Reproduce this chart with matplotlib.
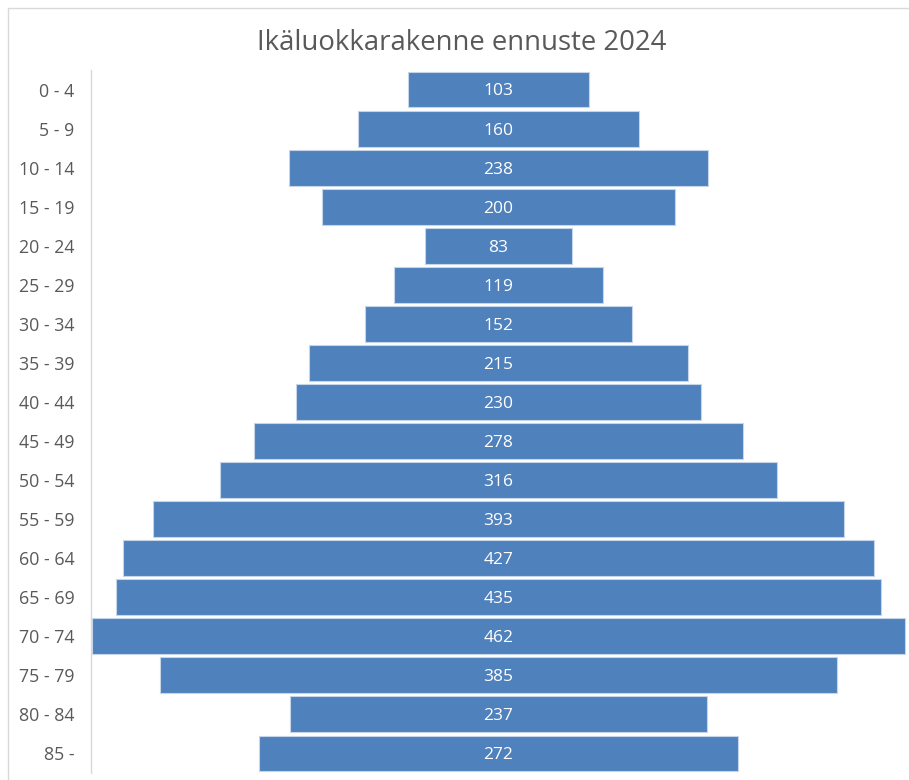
import matplotlib.pyplot as plt
from matplotlib.patches import Rectangle

# Data
age_groups = ["0 - 4", "5 - 9", "10 - 14", "15 - 19", "20 - 24", "25 - 29", "30 - 34",
              "35 - 39", "40 - 44", "45 - 49", "50 - 54", "55 - 59", "60 - 64",
              "65 - 69", "70 - 74", "75 - 79", "80 - 84", "85 -"]
counts = [103, 160, 238, 200, 83, 119, 152, 215, 230, 278, 316, 393, 427, 435, 462, 385, 237, 272]
title = "Ikäluokkarakenne ennuste 2024"

plt.rcParams['font.family'] = ['Open Sans', 'DejaVu Sans']
grey = "#595959"

fig = plt.figure(figsize=(9.09, 7.8), dpi=100)
# chart border like in the spreadsheet export
fig.patches.append(Rectangle((8 / 909, -0.1), 1.2, 1 - 8 / 780 + 0.1, transform=fig.transFigure,
                             fill=False, edgecolor="#d9d9d9", linewidth=1))

ax = fig.add_axes([91 / 909, 1 - 773 / 780, (906 - 91) / 909, (773 - 70) / 780])
ypos = range(len(counts))
lefts = [-c / 2.0 for c in counts]
ax.barh(ypos, counts, left=lefts, height=0.92, color="#4f81bd", edgecolor="#c6d5ea", linewidth=0.8)
for y, c in zip(ypos, counts):
    ax.text(0, y + 0.05, str(c), ha="center", va="center", color="white", fontsize=12.5)

ax.set_xlim(-231.5, 231.5)
ax.set_ylim(len(counts) - 0.5, -0.5)
ax.set_yticks(list(ypos))
ax.set_yticklabels(age_groups, fontsize=12.8, color=grey)
ax.tick_params(axis="y", length=0, pad=12)
ax.set_xticks([])
for s in ["top", "right", "bottom"]:
    ax.spines[s].set_visible(False)
ax.spines["left"].set_color("#d9d9d9")
ax.spines["left"].set_linewidth(1)

fig.text(462 / 909, 1 - 43 / 780, title, ha="center", va="center", fontsize=19.8, color=grey)

plt.savefig("out.png", dpi=100)
plt.close()
